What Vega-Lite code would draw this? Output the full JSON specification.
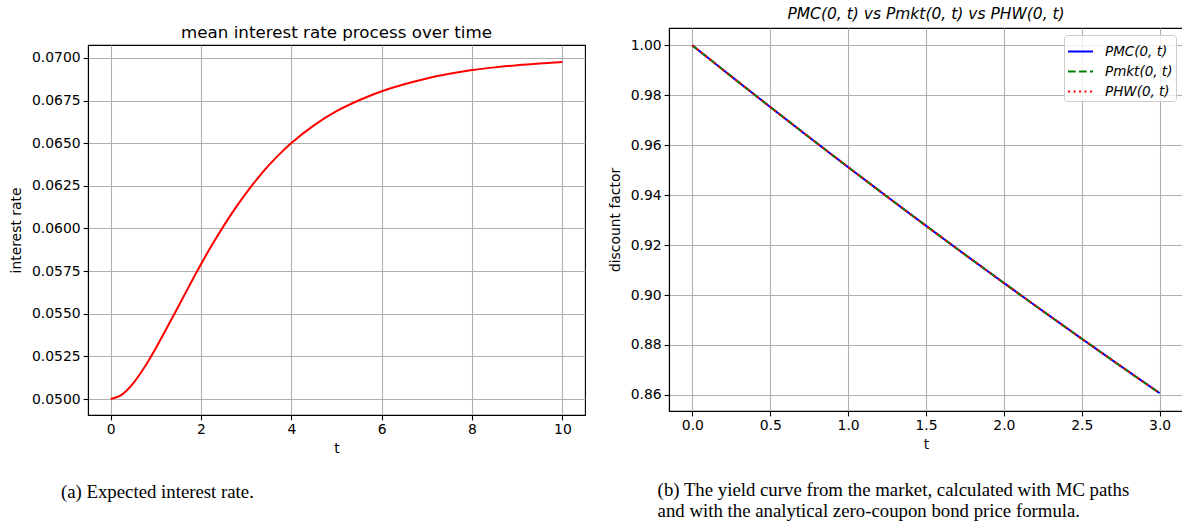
{
  "$schema": "https://vega.github.io/schema/vega-lite/v6.json",
  "background": "white",
  "padding": {"left": 8, "top": 0, "right": 0, "bottom": 0},
  "spacing": 21,
  "resolve": {"scale": {"color": "independent", "strokeDash": "independent"}, "legend": {"color": "independent", "strokeDash": "independent"}},
  "datasets": {
    "rate": [
      {"t": 0, "rate": 0.05000}, {"t": 0.25, "rate": 0.05026}, {"t": 0.5, "rate": 0.05092},
      {"t": 0.75, "rate": 0.05186}, {"t": 1.0, "rate": 0.05298}, {"t": 1.25, "rate": 0.05419},
      {"t": 1.5, "rate": 0.05543}, {"t": 1.75, "rate": 0.05668}, {"t": 2.0, "rate": 0.05790},
      {"t": 2.25, "rate": 0.05906}, {"t": 2.5, "rate": 0.06014}, {"t": 2.75, "rate": 0.06115},
      {"t": 3.0, "rate": 0.06208}, {"t": 3.25, "rate": 0.06293}, {"t": 3.5, "rate": 0.06370},
      {"t": 3.75, "rate": 0.06439}, {"t": 4.0, "rate": 0.06501}, {"t": 4.5, "rate": 0.06605},
      {"t": 5.0, "rate": 0.06688}, {"t": 5.5, "rate": 0.06752}, {"t": 6.0, "rate": 0.06805},
      {"t": 6.5, "rate": 0.06846}, {"t": 7.0, "rate": 0.06880}, {"t": 7.5, "rate": 0.06907},
      {"t": 8.0, "rate": 0.06929}, {"t": 8.5, "rate": 0.06945}, {"t": 9.0, "rate": 0.06958},
      {"t": 9.5, "rate": 0.06968}, {"t": 10.0, "rate": 0.06976}
    ],
    "df": [
      {"series": "PMC(0, t)", "t": 0, "p": 1.0}, {"series": "PMC(0, t)", "t": 0.25, "p": 0.98758},
      {"series": "PMC(0, t)", "t": 0.5, "p": 0.97531}, {"series": "PMC(0, t)", "t": 0.75, "p": 0.96319},
      {"series": "PMC(0, t)", "t": 1.0, "p": 0.95123}, {"series": "PMC(0, t)", "t": 1.25, "p": 0.93941},
      {"series": "PMC(0, t)", "t": 1.5, "p": 0.92774}, {"series": "PMC(0, t)", "t": 1.75, "p": 0.91621},
      {"series": "PMC(0, t)", "t": 2.0, "p": 0.90484}, {"series": "PMC(0, t)", "t": 2.25, "p": 0.89360},
      {"series": "PMC(0, t)", "t": 2.5, "p": 0.88250}, {"series": "PMC(0, t)", "t": 2.75, "p": 0.87153},
      {"series": "PMC(0, t)", "t": 3.0, "p": 0.86071},
      {"series": "Pmkt(0, t)", "t": 0, "p": 1.0}, {"series": "Pmkt(0, t)", "t": 0.25, "p": 0.98758},
      {"series": "Pmkt(0, t)", "t": 0.5, "p": 0.97531}, {"series": "Pmkt(0, t)", "t": 0.75, "p": 0.96319},
      {"series": "Pmkt(0, t)", "t": 1.0, "p": 0.95123}, {"series": "Pmkt(0, t)", "t": 1.25, "p": 0.93941},
      {"series": "Pmkt(0, t)", "t": 1.5, "p": 0.92774}, {"series": "Pmkt(0, t)", "t": 1.75, "p": 0.91621},
      {"series": "Pmkt(0, t)", "t": 2.0, "p": 0.90484}, {"series": "Pmkt(0, t)", "t": 2.25, "p": 0.89360},
      {"series": "Pmkt(0, t)", "t": 2.5, "p": 0.88250}, {"series": "Pmkt(0, t)", "t": 2.75, "p": 0.87153},
      {"series": "Pmkt(0, t)", "t": 3.0, "p": 0.86071},
      {"series": "PHW(0, t)", "t": 0, "p": 1.0}, {"series": "PHW(0, t)", "t": 0.25, "p": 0.98758},
      {"series": "PHW(0, t)", "t": 0.5, "p": 0.97531}, {"series": "PHW(0, t)", "t": 0.75, "p": 0.96319},
      {"series": "PHW(0, t)", "t": 1.0, "p": 0.95123}, {"series": "PHW(0, t)", "t": 1.25, "p": 0.93941},
      {"series": "PHW(0, t)", "t": 1.5, "p": 0.92774}, {"series": "PHW(0, t)", "t": 1.75, "p": 0.91621},
      {"series": "PHW(0, t)", "t": 2.0, "p": 0.90484}, {"series": "PHW(0, t)", "t": 2.25, "p": 0.89360},
      {"series": "PHW(0, t)", "t": 2.5, "p": 0.88250}, {"series": "PHW(0, t)", "t": 2.75, "p": 0.87153},
      {"series": "PHW(0, t)", "t": 3.0, "p": 0.86071}
    ]
  },
  "config": {
    "font": "DejaVu Sans",
    "view": {"stroke": "black", "strokeWidth": 1.1},
    "axis": {
      "labelFont": "DejaVu Sans", "labelFontSize": 13.9, "labelColor": "black",
      "titleFont": "DejaVu Sans", "titleFontSize": 13.9, "titleFontWeight": "normal", "titleColor": "black",
      "gridColor": "#b0b0b0", "gridWidth": 1.1, "gridOpacity": 1,
      "domainColor": "black", "domainWidth": 1.1,
      "tickColor": "black", "tickWidth": 1.1, "tickSize": 4.9,
      "labelPadding": 3, "titlePadding": 5, "labelFlush": false, "labelOverlap": false
    },
    "title": {"font": "DejaVu Sans", "fontSize": 16.7, "fontWeight": "normal", "color": "black"}
  },
  "hconcat": [
    {
      "title": {"text": "(a) Expected interest rate.", "orient": "bottom", "anchor": "start", "font": "Liberation Serif", "fontSize": 18.8, "offset": 27, "dx": 52, "color": "black"},
      "spacing": 2,
      "vconcat": [
        {
          "title": {"text": "mean interest rate process over time", "orient": "bottom", "offset": 13},
          "width": 497,
          "height": 1,
          "view": {"stroke": null},
          "data": {"values": [{"spacer": ""}]},
          "mark": {"type": "text"},
          "encoding": {"text": {"field": "spacer", "type": "nominal"}}
        },
        {
          "width": 497,
          "height": 370,
          "data": {"name": "rate"},
          "mark": {"type": "line", "color": "red", "strokeWidth": 2, "interpolate": "monotone", "clip": true},
          "encoding": {
            "x": {"field": "t", "type": "quantitative",
                  "scale": {"domain": [-0.5, 10.5], "nice": false, "zero": false},
                  "axis": {"values": [0, 2, 4, 6, 8, 10], "format": "d", "title": "t"}},
            "y": {"field": "rate", "type": "quantitative",
                  "scale": {"domain": [0.049062, 0.070762], "nice": false, "zero": false},
                  "axis": {"values": [0.05, 0.0525, 0.055, 0.0575, 0.06, 0.0625, 0.065, 0.0675, 0.07], "format": ".4f", "title": "interest rate", "titlePadding": 8}}
          }
        }
      ]
    },
    {
      "title": {"text": ["(b) The yield curve from the market, calculated with MC paths", "and with the analytical zero-coupon bond price formula."], "orient": "bottom", "anchor": "start", "font": "Liberation Serif", "fontSize": 18.8, "lineHeight": 21, "offset": 29, "dx": 50, "color": "black"},
      "resolve": {"scale": {"color": "independent", "strokeDash": "independent"}, "legend": {"color": "independent", "strokeDash": "independent"}},
      "spacing": 5,
      "vconcat": [
        {
          "title": {"text": "PMC(0, t) vs Pmkt(0, t) vs PHW(0, t)", "orient": "bottom", "fontStyle": "italic", "fontSize": 15.5, "offset": -5},
          "width": 514,
          "height": 1,
          "view": {"stroke": null},
          "data": {"values": [{"spacer": ""}]},
          "mark": {"type": "text"},
          "encoding": {"text": {"field": "spacer", "type": "nominal"}}
        },
        {
          "width": 514,
          "height": 383,
          "data": {"name": "df"},
          "encoding": {
            "x": {"field": "t", "type": "quantitative",
                  "scale": {"domain": [-0.15, 3.15], "nice": false, "zero": false},
                  "axis": {"values": [0, 0.5, 1, 1.5, 2, 2.5, 3], "format": ".1f", "title": "t"}},
            "y": {"field": "p", "type": "quantitative",
                  "scale": {"domain": [0.85356, 1.00696], "nice": false, "zero": false},
                  "axis": {"values": [0.86, 0.88, 0.9, 0.92, 0.94, 0.96, 0.98, 1.0], "format": ".2f", "title": "discount factor", "titlePadding": 8}},
            "color": {"field": "series", "type": "nominal",
                      "scale": {"domain": ["PMC(0, t)", "Pmkt(0, t)", "PHW(0, t)"], "range": ["blue", "green", "red"]},
                      "legend": {"title": null, "orient": "top-right", "offset": 7, "padding": 3, "fillColor": "rgba(255,255,255,0.8)", "strokeColor": "#cccccc", "cornerRadius": 3, "symbolType": "stroke", "symbolSize": 625, "symbolStrokeWidth": 2, "labelFont": "DejaVu Sans", "labelFontSize": 13.5, "labelFontStyle": "italic", "labelColor": "black", "rowPadding": -4, "labelOffset": 11}},
            "strokeDash": {"field": "series", "type": "nominal",
                           "scale": {"domain": ["PMC(0, t)", "Pmkt(0, t)", "PHW(0, t)"], "range": [[1, 0], [7.7, 3.3], [2.1, 3.4]]},
                           "legend": {"title": null, "orient": "top-right", "offset": 7, "padding": 3, "fillColor": "rgba(255,255,255,0.8)", "strokeColor": "#cccccc", "cornerRadius": 3, "symbolType": "stroke", "symbolSize": 625, "symbolStrokeWidth": 2, "labelFont": "DejaVu Sans", "labelFontSize": 13.5, "labelFontStyle": "italic", "labelColor": "black", "rowPadding": -4, "labelOffset": 11}}
          },
          "layer": [
            {"transform": [{"filter": "datum.series === 'PMC(0, t)'"}], "mark": {"type": "line", "strokeWidth": 2}},
            {"transform": [{"filter": "datum.series === 'Pmkt(0, t)'"}], "mark": {"type": "line", "strokeWidth": 2}},
            {"transform": [{"filter": "datum.series === 'PHW(0, t)'"}], "mark": {"type": "line", "strokeWidth": 2}}
          ]
        }
      ]
    }
  ]
}
